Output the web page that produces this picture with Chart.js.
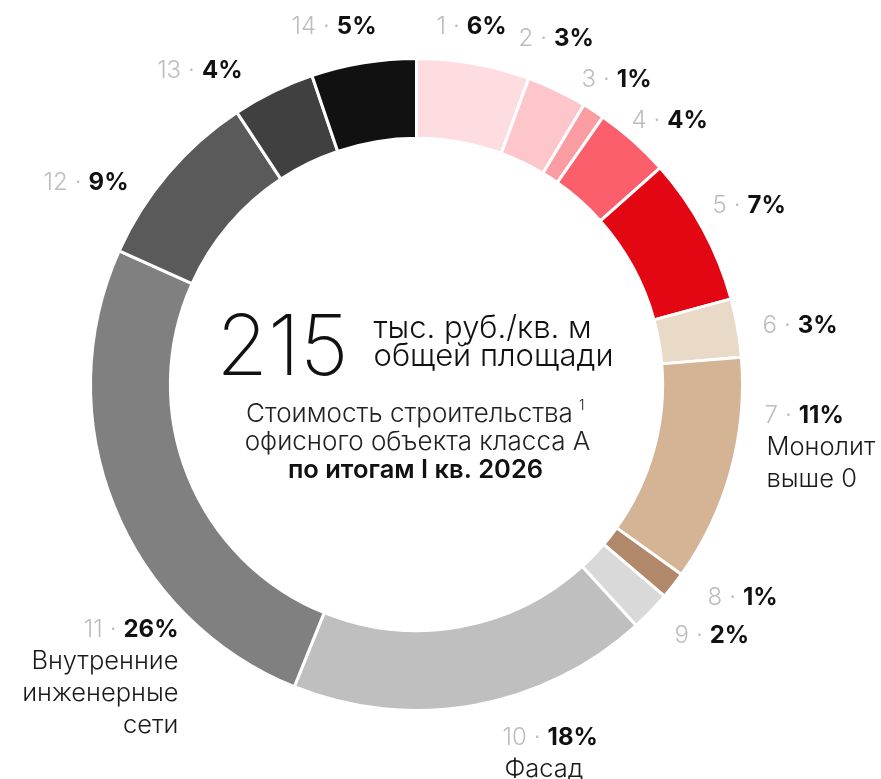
<!DOCTYPE html>
<html>
<head>
<meta charset="UTF-8">
<title>Стоимость строительства офисного объекта класса А</title>
<script src="https://cdn.jsdelivr.net/npm/chart.js"></script>
<style>
  body { margin: 0; background: #fff; }
  canvas { display: block; }
</style>
</head>
<body>
<canvas id="myChart" width="881" height="779"></canvas>
<script>
const items = ['1', '2', '3', '4', '5', '6', '7', '8', '9', '10', '11', '12', '13', '14'];
const shares = [5.6, 3.0, 1.1, 3.75, 7.35, 2.9, 11.25, 1.35, 2.0, 17.9, 25.65, 9.0, 4.1, 5.2];
const percents = ['6%', '3%', '1%', '4%', '7%', '3%', '11%', '1%', '2%', '18%', '26%', '9%', '4%', '5%'];
const captions = ['', '', '', '', '', '', 'Монолит\nвыше 0', '', '', 'Фасад', 'Внутренние\nинженерные\nсети', '', '', ''];

const colors = ['#fddde0', '#fdc6cb', '#fb9ca3', '#fa5f6b', '#e30613', '#e9d9c7', '#d5b496',
                '#b1886a', '#d9d9d9', '#bfbfbf', '#808080', '#5a5a5a', '#404040', '#111111'];

// where each label sits, relative to the ring centre: dx, baseline dy, alignment
const labelSpots = [
  [20, -351, 'left'], [102, -339, 'left'], [165, -298, 'left'], [215, -257, 'left'],
  [296, -172, 'left'], [346, -52, 'left'], [348, 38, 'left'], [291, 220, 'left'],
  [258, 258, 'left'], [86, 360, 'left'], [-238, 252, 'right'], [-288, -195, 'right'],
  [-174, -307, 'right'], [-40, -351, 'right']
];

const FONT = 'Inter, "Open Sans", sans-serif';

const labelPlugin = {
  id: 'sliceLabels',
  afterDraw(chart) {
    const ctx = chart.ctx;
    const arc = chart.getDatasetMeta(0).data[0];
    const cx = arc.x, cy = arc.y;
    ctx.save();
    ctx.textBaseline = 'alphabetic';

    items.forEach((num, i) => {
      const [dx, dy, align] = labelSpots[i];
      const x = cx + dx, y = cy + dy;
      ctx.font = '300 24px ' + FONT;
      const wNum = ctx.measureText(num).width;
      const wDot = ctx.measureText('·').width;
      ctx.font = '700 24px ' + FONT;
      const wPct = ctx.measureText(percents[i]).width;
      const gap = 7;
      const total = wNum + gap + wDot + gap + wPct;
      let sx = align === 'right' ? x - total : x;

      ctx.textAlign = 'left';
      ctx.fillStyle = '#bdbdbd';
      ctx.font = '300 24px ' + FONT;
      ctx.fillText(num, sx, y);
      ctx.fillText('·', sx + wNum + gap, y);
      ctx.fillStyle = '#111';
      ctx.font = '700 24px ' + FONT;
      ctx.fillText(percents[i], sx + wNum + gap + wDot + gap, y);

      if (captions[i]) {
        ctx.font = '300 25.5px ' + FONT;
        ctx.fillStyle = '#1a1a1a';
        ctx.textAlign = align;
        const cxText = align === 'right' ? x : x + 2;
        captions[i].split('\n').forEach((line, k) => {
          ctx.fillText(line, cxText, y + 32 * (k + 1));
        });
      }
    });

    // centre text
    ctx.fillStyle = '#111';
    ctx.textAlign = 'right';
    ctx.font = '200 84px ' + FONT;
    ctx.fillText('215', cx - 68, cy - 10);
    ctx.textAlign = 'left';
    ctx.font = '300 31px ' + FONT;
    ctx.fillText('тыс. руб./кв. м', cx - 43, cy - 47);
    ctx.fillText('общей площади', cx - 43, cy - 19);

    ctx.textAlign = 'center';
    ctx.fillStyle = '#222';
    ctx.font = '300 26px ' + FONT;
    const t1 = 'Стоимость строительства';
    const w1 = ctx.measureText(t1).width;
    ctx.fillText(t1, cx - 7, cy + 37);
    ctx.font = '300 14px ' + FONT;
    ctx.textAlign = 'left';
    ctx.fillText('1', cx - 7 + w1 / 2 + 6, cy + 25);
    ctx.textAlign = 'center';
    ctx.font = '300 26px ' + FONT;
    ctx.fillText('офисного объекта класса А', cx + 1, cy + 65);
    ctx.fillStyle = '#111';
    ctx.font = '600 25.5px ' + FONT;
    ctx.fillText('по итогам I кв. 2026', cx - 1, cy + 93);
    ctx.restore();
  }
};

const ctx = document.getElementById('myChart').getContext('2d');
const chart = new Chart(ctx, {
  type: 'doughnut',
  data: {
    labels: items,
    datasets: [{
      data: shares,
      backgroundColor: colors,
      borderColor: '#ffffff',
      borderWidth: 3
    }]
  },
  options: {
    responsive: false,
    devicePixelRatio: 1,
    animation: false,
    cutout: '75.5%',
    layout: { padding: { top: 57, bottom: 67, left: 89, right: 137 } },
    plugins: {
      legend: { display: false },
      tooltip: { enabled: false }
    }
  },
  plugins: [labelPlugin]
});
</script>
</body>
</html>
